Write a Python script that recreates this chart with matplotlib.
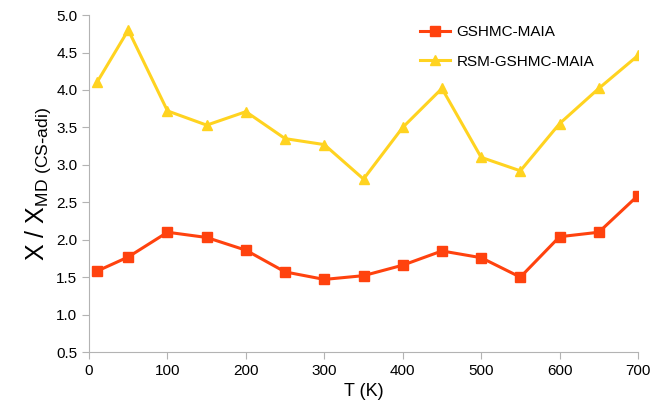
import numpy as np
import matplotlib
matplotlib.use('Agg')
import matplotlib.pyplot as plt

plt.rcParams['font.family'] = ['Liberation Sans', 'DejaVu Sans']

temps = [10, 50, 100, 150, 200, 250, 300, 350, 400, 450, 500, 550, 600, 650, 700]
gshmc = [1.58, 1.77, 2.10, 2.03, 1.86, 1.57, 1.47, 1.52, 1.66, 1.85, 1.76, 1.50, 2.04, 2.10, 2.59]
rsm = [4.10, 4.80, 3.72, 3.53, 3.71, 3.35, 3.27, 2.81, 3.50, 4.02, 3.10, 2.92, 3.55, 4.02, 4.46]

fig = plt.figure(figsize=(6.55, 4.07), dpi=100)
ax = fig.add_axes([0.136, 0.135, 0.838, 0.828])

ax.plot(temps, gshmc, color='#ff420e', lw=2.2, marker='s', ms=7, label='GSHMC-MAIA')
ax.plot(temps, rsm, color='#ffd320', lw=2.2, marker='^', ms=7.5, label='RSM-GSHMC-MAIA')

ax.set_xlim(0, 700)
ax.set_ylim(0.5, 5.0)
ax.set_xticks(np.arange(0, 701, 100))
ax.set_yticks(np.arange(0.5, 5.01, 0.5))
ax.set_yticklabels(['%.1f' % v for v in np.arange(0.5, 5.01, 0.5)])

for s in ['top', 'right']:
    ax.spines[s].set_visible(False)
for s in ['left', 'bottom']:
    ax.spines[s].set_color('#b3b3b3')
ax.tick_params(colors='#b3b3b3', labelcolor='black', labelsize=11, length=5)

ax.set_xlabel('T (K)', fontsize=13)
ax.set_ylabel(r'X / X$_{\mathregular{MD\ (CS\text{-}adi)}}$', fontsize=18, labelpad=2)

ax.legend(loc='upper right', bbox_to_anchor=(0.945, 1.01), frameon=False, fontsize=11,
          handlelength=2.0, handletextpad=0.4, labelspacing=1.0)

fig.savefig('out.png', dpi=100)
